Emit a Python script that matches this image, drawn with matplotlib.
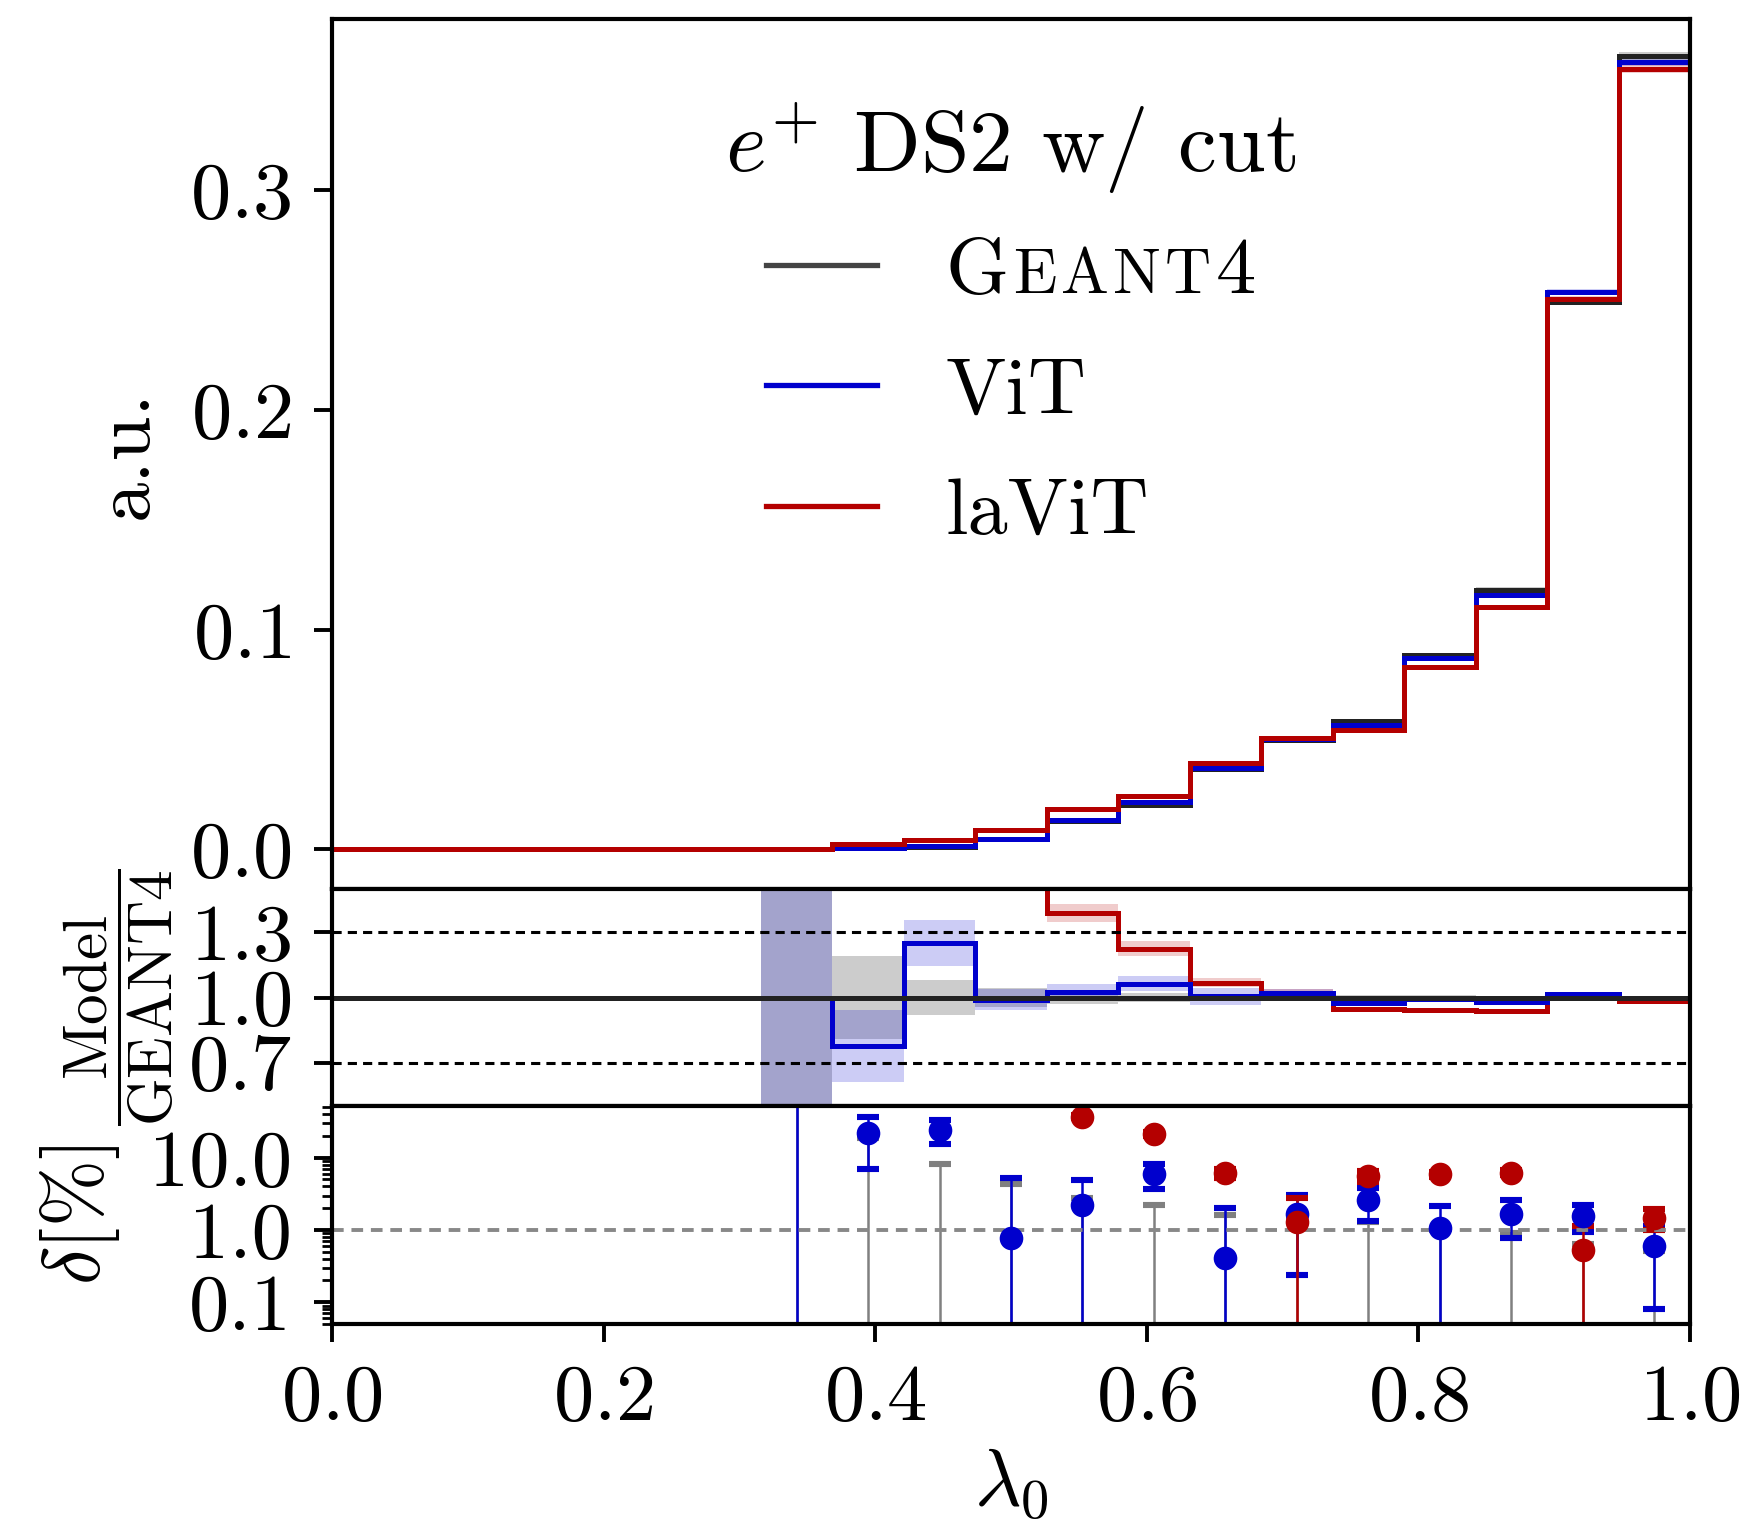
import numpy as np
import matplotlib
matplotlib.use("Agg")
import matplotlib.pyplot as plt
from matplotlib.lines import Line2D
from matplotlib.offsetbox import HPacker, TextArea
from matplotlib.ticker import FixedLocator, FixedFormatter, LogLocator, NullFormatter

plt.rcParams['font.family'] = 'serif'
plt.rcParams['font.serif'] = ['cmr10']
plt.rcParams['mathtext.fontset'] = 'cm'
plt.rcParams['axes.formatter.use_mathtext'] = True
plt.rcParams['axes.unicode_minus'] = False

nan = np.nan
edges = np.linspace(0, 1, 20)
centers = 0.5 * (edges[:-1] + edges[1:])

# histograms (a.u.)
g4 = [0, 0, 0, 0, 0, 0, 0.0002, 0.0010, 0.0011, 0.0049, 0.0130, 0.0201, 0.0368,
      0.0496, 0.0583, 0.0884, 0.1182, 0.2492, 0.3610]
vit = [0, 0, 0, 0, 0, 0, 0.0002, 0.0008, 0.0014, 0.0049, 0.0133, 0.0214, 0.0370,
       0.0502, 0.0568, 0.0870, 0.1160, 0.2538, 0.3583]
lavit = [0, 0, 0, 0, 0, 0, 0.0000, 0.0025, 0.0041, 0.0087, 0.0182, 0.0244, 0.0393,
         0.0507, 0.0545, 0.0832, 0.1103, 0.2506, 0.3553]

# relative stat. uncertainties of the models
vit_rel = [0, 0, 0, 0, 0, 0, 1.0, 0.215, 0.085, 0.05, 0.036, 0.031, 0.038,
           0.02, 0.015, 0.012, 0.01, 0.006, 0.005]
lavit_rel = [0, 0, 0, 0, 0, 0, 0, 0.3, 0.1, 0.06, 0.03, 0.028, 0.02,
             0.015, 0.01, 0.01, 0.008, 0.006, 0.005]

# ratios model / Geant4
vit_ratio = [1, 1, 1, 1, 1, 1, 1.0, 0.776, 1.252, 0.99, 1.027, 1.064, 1.005,
             1.02, 0.976, 0.991, 0.979, 1.018, 1.0]
lavit_ratio = [1, 1, 1, 1, 1, 1, nan, 2.5, 3.7, 1.78, 1.389, 1.224, 1.069,
               1.023, 0.945, 0.942, 0.937, 1.014, 0.983]

# delta [%]
g4_delta_err = [nan, nan, nan, nan, nan, nan, 100, 19, 8.2, 4.35, 2.8, 2.19, 1.61,
                1.4, 1.3, 1.0, 0.92, 0.635, 0.51]
vit_delta = [nan, nan, nan, nan, nan, nan, 150, 22, 24.5, 0.78, 2.19, 5.87, 0.415,
             1.64, 2.57, 1.08, 1.68, 1.56, 0.60]
vit_delta_err = [nan, nan, nan, nan, nan, nan, 160, 15, 9, 4.4, 2.7, 2.2, 1.6,
                 1.4, 1.25, 1.05, 0.9, 0.63, 0.52]
lavit_delta = [nan, nan, nan, nan, nan, nan, nan, 200, 270, 80, 37, 21.3, 6.18,
               1.29, 5.56, 5.87, 6.18, 0.525, 1.48]
lavit_delta_err = [nan, nan, nan, nan, nan, nan, nan, 30, 30, 10, 2, 1.5, 0.9,
                   1.45, 1.0, 0.5, 0.5, 0.6, 0.48]

c_g4 = '#222222'
c_vit = '#0000cd'
c_lavit = '#b40000'
fs = 29

g4 = np.array(g4); vit = np.array(vit); lavit = np.array(lavit)
g4_rel = np.nan_to_num(np.array(g4_delta_err)) / 100
vit_rel = np.array(vit_rel); lavit_rel = np.array(lavit_rel)
vit_ratio = np.array(vit_ratio); lavit_ratio = np.array(lavit_ratio)

fig = plt.figure(figsize=(8.76, 7.685), dpi=200)
ax1 = fig.add_axes([0.1895, 0.4216, 0.7751, 0.566])
ax2 = fig.add_axes([0.1895, 0.2804, 0.7751, 0.1412])
ax3 = fig.add_axes([0.1895, 0.1386, 0.7751, 0.1418])

# top: histograms
for h, rel, c, a in [(g4, g4_rel, 'gray', 0.4), (vit, vit_rel, c_vit, 0.2), (lavit, lavit_rel, c_lavit, 0.2)]:
    ax1.stairs(h * (1 + rel), edges, baseline=h * (1 - rel), fill=True, color=c, alpha=a, lw=0)
for h, c in [(g4, c_g4), (vit, c_vit), (lavit, c_lavit)]:
    ax1.stairs(h, edges, baseline=None, color=c, lw=1.8)

ax1.set_xlim(0, 1)
ax1.set_ylim(-0.018, 0.378)
ax1.set_ylabel('a.u.', fontsize=fs)
ax1.yaxis.set_label_coords(-0.125, 0.5)
ax1.set_yticks([0.0, 0.1, 0.2, 0.3])

handles = [Line2D([], [], color='#444444', lw=1.9), Line2D([], [], color=c_vit, lw=1.9),
           Line2D([], [], color=c_lavit, lw=1.9)]
leg = ax1.legend(handles, ['GEANT4', 'ViT', 'laViT'], title=r'$e^{+}$ DS2 w/ cut',
                 frameon=False, loc='upper center', bbox_to_anchor=(0.5, 0.99),
                 fontsize=fs, title_fontsize=31.5, handlelength=1.38, handletextpad=0.85,
                 labelspacing=0.6)
leg._legend_box.sep = 14.5

# small caps look for the Geant4 entry
for col in leg._legend_handle_box.get_children():
    for row in col.get_children():
        kids = row.get_children()
        if isinstance(kids[1], TextArea) and kids[1].get_text() == 'GEANT4':
            letters = [('G', fs), ('E', 23), ('A', 23), ('N', 23), ('T', 23), ('4', fs)]
            sc = HPacker(children=[TextArea(t, textprops=dict(fontsize=s)) for t, s in letters],
                         align='baseline', pad=0, sep=1.5)
            sc.set_figure(fig)
            row._children[1] = sc

# middle: ratio
ax2.stairs(1 + g4_rel, edges, baseline=1 - g4_rel, fill=True, color='gray', alpha=0.4, lw=0)
ax2.stairs(vit_ratio * (1 + vit_rel), edges, baseline=vit_ratio * (1 - vit_rel), fill=True,
           color=c_vit, alpha=0.2, lw=0)
ax2.stairs(lavit_ratio * (1 + lavit_rel), edges, baseline=lavit_ratio * (1 - lavit_rel), fill=True,
           color=c_lavit, alpha=0.2, lw=0)
ax2.stairs(lavit_ratio, edges, baseline=None, color=c_lavit, lw=1.8)
ax2.stairs(vit_ratio, edges, baseline=None, color=c_vit, lw=1.8)
ax2.stairs(np.ones(len(g4)), edges, baseline=None, color=c_g4, lw=1.8)
ax2.axhline(1.3, color='k', ls='--', lw=1.1, dashes=(3, 2))
ax2.axhline(0.7, color='k', ls='--', lw=1.1, dashes=(3, 2))
ax2.set_xlim(0, 1)
ax2.set_ylim(0.5, 1.5)
ax2.set_yticks([0.7, 1.0, 1.3])
ax2.set_ylabel(r'$\dfrac{\mathrm{Model}}{\mathrm{GEANT4}}$', fontsize=22)
ax2.yaxis.set_label_coords(-0.115, 0.5)

# bottom: delta
ax3.set_yscale('log')
ax3.errorbar(centers, np.zeros(len(centers)), yerr=g4_delta_err, fmt='none', ecolor='#808080',
             elinewidth=0.9, capsize=4, capthick=2.2)
ax3.errorbar(centers, vit_delta, yerr=vit_delta_err, fmt='o', color=c_vit, ms=7.5,
             elinewidth=0.9, capsize=4, capthick=2.2)
ax3.errorbar(centers, lavit_delta, yerr=lavit_delta_err, fmt='o', color=c_lavit, ms=7.5,
             elinewidth=0.9, capsize=4, capthick=2.2)
ax3.axhline(1.0, color='#888888', ls='--', lw=1.4, dashes=(3, 2))
ax3.set_xlim(0, 1)
ax3.set_ylim(0.05, 52)
ax3.yaxis.set_major_locator(FixedLocator([0.1, 1.0, 10.0]))
ax3.yaxis.set_major_formatter(FixedFormatter(['0.1', '1.0', '10.0']))
ax3.yaxis.set_minor_locator(LogLocator(base=10, subs=np.arange(2, 10)))
ax3.yaxis.set_minor_formatter(NullFormatter())
ax3.set_ylabel(r'$\delta[\%]$', fontsize=fs)
ax3.yaxis.set_label_coords(-0.155, 0.5)
ax3.set_xticks([0.0, 0.2, 0.4, 0.6, 0.8, 1.0])
ax3.set_xlabel(r'$\lambda_0$', fontsize=fs)

for ax in (ax1, ax2, ax3):
    for s in ax.spines.values():
        s.set_linewidth(1.5)
    ax.tick_params(axis='both', which='major', labelsize=fs, length=6.5, width=1.4, pad=8)
    ax.tick_params(axis='y', which='minor', length=3.6, width=1.0)
for ax in (ax1, ax2):
    ax.tick_params(axis='x', bottom=False, labelbottom=False)
ax3.tick_params(axis='x', which='minor', bottom=False)

fig.savefig('out.png', dpi=200)
